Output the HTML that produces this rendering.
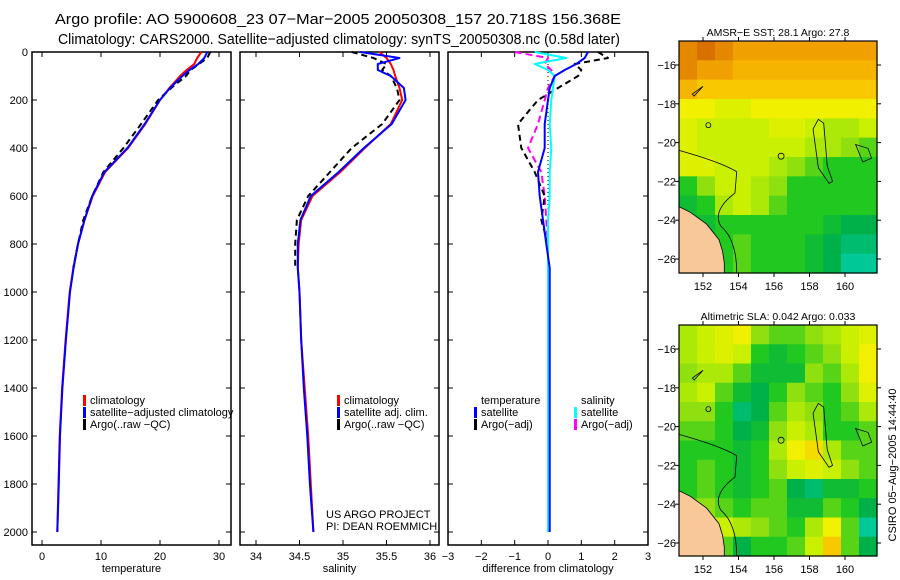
<!DOCTYPE html>
<html><head><meta charset="utf-8"><style>
body{margin:0;background:#fff}
svg{display:block;font-family:"Liberation Sans",sans-serif}
</style></head><body>
<svg id="c" width="900" height="580" viewBox="0 0 900 580">
<text x="55" y="24" font-size="15" textLength="566" lengthAdjust="spacingAndGlyphs">Argo profile: AO 5900608_23 07−Mar−2005 20050308_157 20.718S 156.368E</text>
<text x="58" y="44" font-size="15" textLength="562" lengthAdjust="spacingAndGlyphs">Climatology: CARS2000. Satellite−adjusted climatology: synTS_20050308.nc (0.58d later)</text>
<g id="g"></g>
</svg>
<script>
const depths=[0,25,50,75,100,150,200,300,400,500,600,700,800,900,1000,1200,1400,1600,1800,2000];
const tempClim=[27,26.3,25.8,24.5,23.4,21.6,20,17.5,14.6,10.7,8.6,7.2,6.1,5.3,4.7,4.0,3.4,3.0,2.8,2.6];
const tempSat=[28,27.5,26.5,25,23.8,21.7,20,17.4,14.5,10.6,8.5,7.2,6.1,5.35,4.75,4.05,3.45,3.05,2.85,2.6];
const tempArgo=[28.5,28,26.6,25.2,24.4,21.9,19.7,16.8,13.8,10.4,8.5,7.0,6.1,5.3,null,null,null,null,null,null];
const salClim=[35.42,35.5,35.55,35.58,35.6,35.65,35.68,35.55,35.25,34.97,34.65,34.52,34.49,34.48,34.5,34.52,34.56,34.6,34.63,34.66];
const salSat=[35.2,35.65,35.4,35.4,35.55,35.7,35.72,35.56,35.24,34.95,34.63,34.51,34.48,34.48,34.5,34.52,34.55,34.59,34.62,34.66];
const salArgo=[35.1,35.35,35.5,35.45,35.55,35.62,35.65,35.45,35.1,34.85,34.6,34.47,34.45,34.45,null,null,null,null,null,null];
const dTempSat=[1.2,1.1,0.85,0.5,0.2,0.05,0,-0.1,-0.1,-0.3,-0.25,-0.15,-0.05,0.05,0.05,0.05,0.05,0.05,0.05,0.05];
const dTempArgo=[1.5,1.8,0.8,1.0,0.9,0.3,-0.3,-0.9,-0.8,-0.4,-0.1,-0.2,0,0,null,null,null,null,null,null];
const dSalSat=[-0.4,0.55,-0.4,0.0,0.2,0.15,0.1,0.05,0.1,0.05,0.05,0,0,0,0,0,0,0,0,0];
const dSalArgo=[-1.0,0.0,-0.1,0.1,0.2,0.0,-0.1,-0.3,-0.6,-0.2,-0.1,-0.05,0,0,0,0,null,null,null,null];
const depthTicks=[0,200,400,600,800,1000,1200,1400,1600,1800,2000];
const tempTicks=[0,10,20,30];
const salTicks=[34,34.5,35,35.5,36];
const diffTicks=[-3,-2,-1,0,1,2,3];
const sstGrid=[
[0.85,0.9,0.85,0.8,0.8,0.8,0.8,0.8,0.8,0.8,0.8],
[0.85,0.8,0.8,0.75,0.75,0.75,0.75,0.75,0.75,0.75,0.75],
[0.75,0.7,0.7,0.7,0.7,0.7,0.7,0.7,0.7,0.7,0.7],
[0.6,0.6,0.55,0.55,0.6,0.6,0.6,0.6,0.6,0.6,0.6],
[0.55,0.5,0.5,0.5,0.5,0.55,0.55,0.5,0.45,0.45,0.5],
[0.55,0.5,0.5,0.5,0.5,0.5,0.5,0.45,0.45,0.4,0.35],
[0.55,0.55,0.5,0.5,0.5,0.45,0.4,0.35,0.3,0.3,0.3],
[0.3,0.4,0.5,0.5,0.45,0.4,0.3,0.3,0.3,0.3,0.3],
[0.25,0.3,0.45,0.5,0.45,0.35,0.3,0.3,0.3,0.3,0.3],
[0.25,0.25,0.3,0.3,0.3,0.3,0.3,0.3,0.25,0.2,0.2],
[0.25,0.25,0.3,0.35,0.3,0.3,0.3,0.25,0.2,0.15,0.15],
[0.25,0.25,0.3,0.35,0.3,0.3,0.3,0.25,0.2,0.1,0.1]];
const slaGrid=[
[0.45,0.5,0.55,0.6,0.4,0.35,0.35,0.4,0.45,0.5,0.55],
[0.45,0.5,0.55,0.5,0.3,0.25,0.3,0.35,0.4,0.5,0.6],
[0.4,0.45,0.45,0.35,0.25,0.25,0.25,0.4,0.35,0.45,0.6],
[0.45,0.5,0.35,0.25,0.2,0.3,0.4,0.35,0.3,0.4,0.55],
[0.4,0.4,0.3,0.15,0.2,0.35,0.45,0.4,0.3,0.35,0.45],
[0.35,0.35,0.3,0.2,0.25,0.4,0.5,0.45,0.3,0.3,0.35],
[0.3,0.3,0.3,0.25,0.3,0.45,0.6,0.65,0.45,0.35,0.35],
[0.3,0.35,0.3,0.25,0.3,0.4,0.5,0.55,0.5,0.4,0.35],
[0.3,0.35,0.3,0.25,0.3,0.35,0.2,0.15,0.25,0.25,0.3],
[0.35,0.4,0.35,0.3,0.35,0.35,0.25,0.25,0.35,0.3,0.2],
[0.4,0.45,0.5,0.45,0.4,0.35,0.3,0.45,0.6,0.35,0.1],
[0.4,0.4,0.35,0.2,0.3,0.3,0.35,0.5,0.7,0.35,0.2]];
const lonTicks=[152,154,156,158,160];
const latTicks=[-16,-18,-20,-22,-24,-26];

const NS='http://www.w3.org/2000/svg';
const G=document.getElementById('g');
function mk(t,a,p){const e=document.createElementNS(NS,t);for(const k in a)e.setAttribute(k,a[k]);(p||G).appendChild(e);return e;}
const yD=d=>52+d*0.24;
const Y0=52,Y1=545;

function frame(name,x0,x1,xS,ticks,label,showY,fmt){
  const r=mk('rect',{x:x0,y:Y0,width:x1-x0,height:Y1-Y0,fill:'none',stroke:'#000','stroke-width':1.5});
  
  
  ticks.forEach(t=>{
    const x=xS(t);
    mk('line',{x1:x,x2:x,y1:Y1,y2:Y1-5,stroke:'#000'});
    mk('line',{x1:x,x2:x,y1:Y0,y2:Y0+5,stroke:'#000'});
    const tx=mk('text',{x:x,y:Y1+15,'font-size':11,'text-anchor':'middle'});
    tx.textContent=fmt?fmt(t):t;
    
    
  });
  depthTicks.forEach(d=>{
    const y=yD(d);
    mk('line',{x1:x0,x2:x0+5,y1:y,y2:y,stroke:'#000'});
    mk('line',{x1:x1,x2:x1-5,y1:y,y2:y,stroke:'#000'});
    if(showY){const tx=mk('text',{x:x0-4,y:y+4,'font-size':11,'text-anchor':'end'});tx.textContent=d;
      
      }
  });
  const l=mk('text',{x:(x0+x1)/2,y:Y1+27,'font-size':11,'text-anchor':'middle'});l.textContent=label;
  
  
}
function series(name,vals,xS,color,dash,w){
  let d='',pen=false;
  vals.forEach((v,i)=>{if(v===null){pen=false;return;}d+=(pen?'L':'M')+xS(v).toFixed(1)+','+yD(depths[i]).toFixed(1);pen=true;});
  const p=mk('path',{d:d,fill:'none',stroke:color,'stroke-width':w||2,'stroke-dasharray':dash||'none','stroke-linejoin':'round'});
  
  
}
function legend(name,x,y,items){
  items.forEach((it,i)=>{
    const yy=y+i*12;
    mk('rect',{x:x,y:yy-9,width:3,height:11,fill:it[1]});
    const t=mk('text',{x:x+7,y:yy,'font-size':11});t.textContent=it[0];
    
    
  });
}
const xT=v=>42+v*(219-42)/30;
frame('temperature-panel',32,231,xT,tempTicks,'temperature',true);
series('temp-climatology',tempClim,xT,'#f00');
series('temp-argo',tempArgo,xT,'#000','6,4');
series('temp-satellite',tempSat,xT,'#00f');
legend('temp-legend',83,404,[['climatology','#f00'],['satellite−adjusted climatology','#00f'],['Argo(..raw −QC)','#000']]);
const xSal=v=>256+(v-34)*(430-256)/2;
frame('salinity-panel',240,439,xSal,salTicks,'salinity',false);
series('sal-climatology',salClim,xSal,'#f00');
series('sal-argo',salArgo,xSal,'#000','6,4');
series('sal-satellite',salSat,xSal,'#00f');
legend('sal-legend',337,404,[['climatology','#f00'],['satellite adj. clim.','#00f'],['Argo(..raw −QC)','#000']]);
let t1=mk('text',{x:326,y:518,'font-size':11});t1.textContent='US ARGO PROJECT';


let t2=mk('text',{x:326,y:530,'font-size':11});t2.textContent='PI: DEAN ROEMMICH';


const xDf=v=>448+(v+3)*(200/6);
frame('difference-panel',448,648,xDf,diffTicks,'difference from climatology',false,t=>t<0?'−'+(-t):t);
mk('line',{x1:xDf(0),x2:xDf(0),y1:Y0,y2:yD(2000),stroke:'#000','stroke-dasharray':'1,3'});
series('dsal-argo',dSalArgo,xDf,'#f0f','7,4');
series('dtemp-argo',dTempArgo,xDf,'#000','6,4');
series('dsal-satellite',dSalSat,xDf,'#0ff');
series('dtemp-satellite',dTempSat,xDf,'#00f');
let lt=mk('text',{x:481,y:404,'font-size':11});lt.textContent='temperature';


legend('diff-temp-legend',474,416,[['satellite','#00f'],['Argo(−adj)','#000']]);
let ls=mk('text',{x:581,y:404,'font-size':11});ls.textContent='salinity';


legend('diff-sal-legend',574,416,[['satellite','#0ff'],['Argo(−adj)','#f0f']]);

const cstops=[[0.1,[0,200,150]],[0.2,[0,176,72]],[0.3,[32,200,32]],[0.4,[144,224,16]],[0.5,[200,240,0]],[0.6,[240,240,0]],[0.7,[248,200,0]],[0.8,[240,160,0]],[0.9,[216,112,0]]];
function cmap(v){
  if(v<=cstops[0][0])return 'rgb('+cstops[0][1]+')';
  for(let i=1;i<cstops.length;i++){if(v<=cstops[i][0]){const a=cstops[i-1],b=cstops[i],f=(v-a[0])/(b[0]-a[0]);
    return 'rgb('+a[1].map((c,k)=>Math.round(c+(b[1][k]-c)*f)).join(',')+')';}}
  return 'rgb('+cstops[cstops.length-1][1]+')';
}
function map(name,top,bottom,grid,title){
  const L=679,R=877;
  const lonX=lon=>703+(lon-152)*(845-703)/8;
  const latY=lat=>top+24+(-16-lat)*19.4;
  const rows=grid.length,cols=grid[0].length,cw=(R-L)/cols,ch=(bottom-top)/rows;
  grid.forEach((row,i)=>row.forEach((v,j)=>{
    const c=mk('rect',{x:(L+j*cw).toFixed(2),y:(top+i*ch).toFixed(2),width:(cw+0.6).toFixed(2),height:(ch+0.6).toFixed(2),fill:cmap(v)});
    
    
  }));
  const land=mk('path',{d:`M${L},${latY(-23.3)} L${lonX(151.3)},${latY(-23.6)} L${lonX(152.2)},${latY(-24.2)} L${lonX(152.9)},${latY(-25)} L${lonX(153.1)},${latY(-25.6)} L${lonX(153.2)},${latY(-26.2)} L${lonX(153.2)},${bottom} L${L},${bottom} Z`,fill:'#f9c898',stroke:'#000','stroke-width':0.8});
  
  
  const cont=mk('path',{d:`M${L},${latY(-20.4)} Q${lonX(153)},${latY(-21)} ${lonX(153.9)},${latY(-21.5)} L${lonX(153.8)},${latY(-22.6)} Q${lonX(152.5)},${latY(-23.5)} ${lonX(153)},${latY(-24.3)} Q${lonX(153.9)},${latY(-25)} ${lonX(153.9)},${bottom}`,fill:'none',stroke:'#000','stroke-width':0.8});
  
  
  const reef=mk('path',{d:`M${lonX(158.2)},${latY(-19.3)} L${lonX(158.5)},${latY(-18.8)} L${lonX(158.8)},${latY(-19)} L${lonX(159)},${latY(-21.2)} L${lonX(159.3)},${latY(-22)} L${lonX(159.1)},${latY(-22.1)} L${lonX(158.5)},${latY(-21.3)} Z`,fill:'none',stroke:'#000','stroke-width':0.8});
  
  
  mk('circle',{cx:lonX(156.4),cy:latY(-20.7),r:3,fill:'none',stroke:'#000','stroke-width':0.8});
  mk('circle',{cx:lonX(152.3),cy:latY(-19.1),r:2.5,fill:'none',stroke:'#000','stroke-width':0.8});
  mk('path',{d:`M${lonX(160.6)},${latY(-20.1)} L${lonX(161.3)},${latY(-20.3)} L${lonX(161.5)},${latY(-20.8)} L${lonX(161)},${latY(-21)} Z`,fill:'none',stroke:'#000','stroke-width':0.8});
  mk('path',{d:`M${lonX(151.4)},${latY(-17.5)} L${lonX(152)},${latY(-17.1)} L${lonX(151.5)},${latY(-17.6)} Z`,fill:'none',stroke:'#000','stroke-width':0.8});
  const fr=mk('rect',{x:L,y:top,width:R-L,height:bottom-top,fill:'none',stroke:'#000','stroke-width':1.2});
  
  
  lonTicks.forEach(lon=>{const x=lonX(lon);mk('line',{x1:x,x2:x,y1:top,y2:top-4,stroke:'#000'});mk('line',{x1:x,x2:x,y1:bottom,y2:bottom+4,stroke:'#000'});
    const t=mk('text',{x:x,y:bottom+17,'font-size':11,'text-anchor':'middle'});t.textContent=lon;
    
    });
  latTicks.forEach(lat=>{const y=latY(lat);mk('line',{x1:L,x2:L-4,y1:y,y2:y,stroke:'#000'});mk('line',{x1:R,x2:R+4,y1:y,y2:y,stroke:'#000'});
    const t=mk('text',{x:L-3,y:y+4,'font-size':11,'text-anchor':'end'});t.textContent='−'+(-lat);
    
    });
  const tt=mk('text',{x:(L+R)/2,y:top-5,'font-size':10.5,'text-anchor':'middle'});tt.textContent=title;
  
  
}
map('sst-map',41,273,sstGrid,'AMSR−E SST: 28.1 Argo: 27.8');
map('sla-map',325,556,slaGrid,'Altimetric SLA: 0.042 Argo: 0.033');
const st=mk('text',{x:0,y:0,'font-size':11,transform:'translate(896,465) rotate(-90)','text-anchor':'middle'});
st.textContent='CSIRO 05−Aug−2005 14:44:40';


</script>
</body></html>
